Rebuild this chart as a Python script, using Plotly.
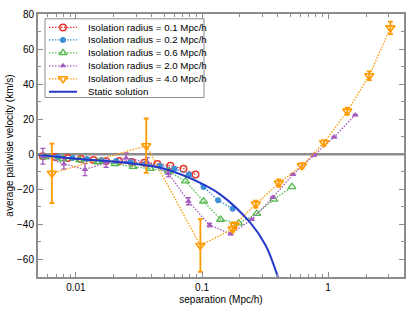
import plotly.graph_objects as go

# ---------------- data ----------------
r01_x = [0.00546, 0.00687, 0.00863, 0.01096, 0.01378, 0.01734, 0.0220, 0.0277, 0.0348, 0.0442, 0.0561, 0.0712, 0.0888]
r01_y = [-1.1, -1.6, -2.2, -2.7, -3.3, -3.8, -3.8, -4.4, -4.9, -5.5, -6.6, -8.2, -11.5]

r02_x = [0.00551, 0.00719, 0.00938, 0.01224, 0.01597, 0.02085, 0.0272, 0.0355, 0.0463, 0.0604, 0.0788, 0.1028, 0.1341, 0.175]
r02_y = [-1.1, -1.6, -2.2, -2.7, -3.3, -3.8, -4.4, -5.5, -6.6, -8.2, -11.5, -18.6, -26.2, -31.1]

r06_x = [0.00566, 0.00787, 0.01076, 0.01497, 0.02046, 0.02846, 0.0389, 0.0541, 0.0740, 0.1028, 0.1403, 0.1953, 0.2716, 0.3712, 0.516]
r06_y = [-1.6, -2.7, -3.3, -4.4, -5.5, -7.1, -8.2, -9.8, -15.3, -26.8, -37.2, -39.3, -33.9, -25.7, -18.6]

r20_x = [0.00546, 0.00802, 0.0118, 0.01734, 0.0250, 0.0368, 0.0541, 0.0780, 0.1148, 0.1687, 0.248, 0.365, 0.526, 0.773, 1.116, 1.64]
r20_y = [-1.1, -5.5, -8.7, -4.9, -2.2, -4.4, -10.9, -26.8, -40.4, -45.4, -37.2, -24.6, -11.5, -0.5, 9.8, 22.4]
r20_err = [4.5, 3.0, 3.5, 2.5, 3.0, 2.5, 2.0, 2.0, 1.0, 0.6, 0.5, 0.5, 0.4, 0.4, 0.4, 0.4]

r40_x = [0.00644, 0.0361, 0.097, 0.175, 0.181, 0.267, 0.407, 0.62, 0.93, 1.42, 2.12, 3.12]
r40_y = [-10.9, 4.9, -52.0, -42.6, -40.4, -28.4, -16.4, -6.5, 6.6, 24.6, 44.8, 72.1]
r40_err = [17.0, 15.5, 15.0, 1.5, 1.5, 2.0, 2.0, 1.5, 1.5, 2.0, 2.5, 3.5]

static_x = [0.005, 0.01, 0.025, 0.0467, 0.0837, 0.14, 0.243, 0.32, 0.40, 0.45]
static_y = [-0.3, -2.5, -4.9, -7.7, -14.2, -23.0, -39.3, -52.0, -70.0, -82.0]

names = ["Isolation radius = 0.1 Mpc/h", "Isolation radius = 0.2 Mpc/h",
         "Isolation radius = 0.6 Mpc/h", "Isolation radius = 2.0 Mpc/h",
         "Isolation radius = 4.0 Mpc/h", "Static solution"]

x_tickvals = [0.01, 0.1, 1]
x_ticktext = ["0.01", "0.1", "1"]
x_minor = [0.005, 0.006, 0.007, 0.008, 0.009, 0.02, 0.03, 0.04, 0.05, 0.06, 0.07, 0.08, 0.09,
           0.2, 0.3, 0.4, 0.5, 0.6, 0.7, 0.8, 0.9, 2, 3, 4]

# ---------------- styles ----------------
RED = "#e8372c"
LBLUE = "#3d8fd6"
GREEN = "#55b84f"
PURPLE = "#a45cbf"
ORANGE = "#ff9a00"
DBLUE = "#2438c8"
GRAY = "#8c8c8c"
DOT = "1.5px,1.5px"

W, H = 415, 312
ML, MR, MT, MB = 38, 11, 8, 30
PW, PH = W - ML - MR, H - MT - MB


def px2paper(px, py):
    return (px - ML) / PW, 1 - (py - MT) / PH


styles = [
    dict(color=RED, marker=dict(symbol="circle-open", size=6.5, color=RED, line=dict(width=1.5, color=RED))),
    dict(color=LBLUE, marker=dict(symbol="circle", size=6, color=LBLUE)),
    dict(color=GREEN, marker=dict(symbol="triangle-up-open", size=7, color=GREEN, line=dict(width=1.3, color=GREEN))),
    dict(color=PURPLE, marker=dict(symbol="triangle-up", size=6, color=PURPLE)),
    dict(color=ORANGE, marker=dict(symbol="triangle-down-open", size=8, color=ORANGE, line=dict(width=1.6, color=ORANGE))),
]

fig = go.Figure()

series = [(r01_x, r01_y, None), (r02_x, r02_y, None), (r06_x, r06_y, None),
          (r20_x, r20_y, r20_err), (r40_x, r40_y, r40_err)]
for i, (xs, ys, err) in enumerate(series):
    st = styles[i]
    kw = {}
    if err is not None:
        thick = 1.3 if i == 3 else 1.8
        kw["error_y"] = dict(type="data", array=err, color=st["color"], thickness=thick, width=2.5)
    fig.add_trace(go.Scatter(x=xs, y=ys, name=names[i], mode="lines+markers",
                             line=dict(color=st["color"], width=1.3, dash=DOT),
                             marker=st["marker"], showlegend=False, **kw))

fig.add_trace(go.Scatter(x=static_x, y=static_y, name=names[5], mode="lines",
                         line=dict(color=DBLUE, width=2, shape="spline", smoothing=1.0),
                         showlegend=False))

# zero line
fig.add_shape(type="line", xref="paper", yref="y", x0=0, x1=1, y0=0, y1=0,
              line=dict(color=GRAY, width=2.5), layer="below")

# ---------------- compact legend (overlay axes in paper units) ----------------
bx0, by0 = px2paper(45, 13)
bx1, by1 = px2paper(204, 95)
fig.add_shape(type="rect", xref="paper", yref="paper", x0=bx0, y0=by1, x1=bx1, y1=by0,
              line=dict(color=GRAY, width=1), fillcolor="white", layer="below")

rows_py = [22, 35, 48.5, 62, 75.5, 89]
for i, py in enumerate(rows_py):
    lx0, ly = px2paper(49, py)
    lx1, _ = px2paper(77, py)
    mx, _ = px2paper(63, py)
    tx, _ = px2paper(86, py)
    if i < 5:
        st = styles[i]
        fig.add_trace(go.Scatter(x=[lx0, lx1], y=[ly, ly], xaxis="x2", yaxis="y2", mode="lines",
                                 line=dict(color=st["color"], width=1.3, dash=DOT),
                                 showlegend=False, hoverinfo="skip", cliponaxis=False))
        fig.add_trace(go.Scatter(x=[mx], y=[ly], xaxis="x2", yaxis="y2", mode="markers",
                                 marker=st["marker"], showlegend=False, hoverinfo="skip", cliponaxis=False))
    else:
        fig.add_trace(go.Scatter(x=[lx0, lx1], y=[ly, ly], xaxis="x2", yaxis="y2", mode="lines",
                                 line=dict(color=DBLUE, width=2),
                                 showlegend=False, hoverinfo="skip", cliponaxis=False))
    fig.add_annotation(x=tx, y=ly, xref="paper", yref="paper", text=names[i], showarrow=False,
                       xanchor="left", yanchor="middle", font=dict(size=9.7, color="black"))

axis_common = dict(showline=True, linecolor=GRAY, linewidth=2, mirror="ticks",
                   ticks="inside", tickcolor=GRAY, tickwidth=1, ticklen=5,
                   showgrid=False, zeroline=False, tickfont=dict(size=10, color="black"))

fig.update_layout(
    xaxis=dict(type="log", range=[-2.30103, 0.60206], tickvals=x_tickvals, ticktext=x_ticktext,
               minor=dict(tickvals=x_minor, ticks="inside", ticklen=3, tickcolor=GRAY, showgrid=False),
               title=dict(text="separation (Mpc/h)", font=dict(size=10, color="black"), standoff=4),
               **axis_common),
    yaxis=dict(range=[-70, 80], dtick=20, tick0=0,
               minor=dict(dtick=10, ticks="inside", ticklen=3, tickcolor=GRAY, showgrid=False),
               title=dict(text="average pairwise velocity (km/s)", font=dict(size=10, color="black"), standoff=2),
               **axis_common),
    xaxis2=dict(overlaying="x", range=[0, 1], visible=False, fixedrange=True),
    yaxis2=dict(overlaying="y", range=[0, 1], visible=False, fixedrange=True),
    width=W, height=H,
    margin=dict(l=ML, r=MR, t=MT, b=MB),
    paper_bgcolor="white", plot_bgcolor="white",
    font=dict(family="Liberation Sans, Arial, sans-serif", size=10, color="black"),
    showlegend=False,
)

fig.write_html("out.html", config={"displayModeBar": False},
               post_script="document.body.style.margin='0px';")
